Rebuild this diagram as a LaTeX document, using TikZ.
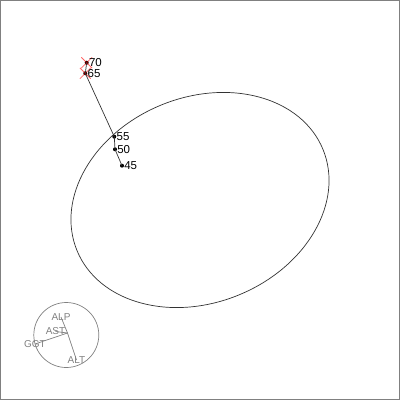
\documentclass[tikz,border=0pt]{standalone}
\usepackage{fontspec}
\setmainfont{Liberation Sans}
\usetikzlibrary{shapes.misc}

\begin{document}
\begin{tikzpicture}[x=1pt,y=-1pt,line width=0.7pt,
  dot/.style={circle,fill=black,inner sep=0pt,minimum size=4pt},
  lab/.style={anchor=west,inner sep=0pt,font=\fontsize{11.5}{11.5}\selectfont},
  var/.style={text=gray,inner sep=0pt,font=\fontsize{10}{10}\selectfont},
  miss/.style={draw=red,opacity=0.6,line width=0.8pt,cross out,inner sep=0pt,minimum size=10pt}]
  \useasboundingbox (0,0) rectangle (400,400);
  \draw [gray] (0.5,0.5) rectangle (399.5,399.5);

  \draw [black!80] [rotate around={22.4:(200,200)}] (200,200) ellipse [x radius=133, y radius=102.6];

  \node [dot] at (86.7,62.7)  (P70) {};
  \node [dot] at (85.3,73.3)  (P65) {};
  \node [dot] at (114.3,136.7) (P55) {};
  \node [dot] at (115,149.3)  (P50) {};
  \node [dot] at (122,165.7)  (P45) {};
  \node [miss] at (P70) (X70) {};
  \node [miss] at (P65) (X65) {};

  \draw [black!80] (P70.center) -- (P65.center) -- (P55.center) -- (P50.center) -- (P45.center);

  \node [lab] at ([xshift=2pt]P70.center) (L70) {70};
  \node [lab] at ([xshift=2pt]P65.center) (L65) {65};
  \node [lab] at ([xshift=2pt]P55.center) (L55) {55};
  \node [lab] at ([xshift=2pt]P50.center) (L50) {50};
  \node [lab] at ([xshift=2pt]P45.center) (L45) {45};

  \draw [gray] (66.3,335) circle [radius=32.5];
  \coordinate (Origin) at (67.5,333);
  \node [var] at (61,317)   (ALP) {ALP};
  \node [var] at (55.5,331.5) (AST) {AST};
  \node [var] at (35,344) (GGT) {GGT};
  \node [var] at (76.5,360) (ALT) {ALT};
  \draw [gray] (Origin) -- (ALP.center);
  \draw [gray] (Origin) -- (AST.center);
  \draw [gray] (Origin) -- (GGT.center);
  \draw [gray] (Origin) -- (ALT.center);
\end{tikzpicture}
\end{document}
